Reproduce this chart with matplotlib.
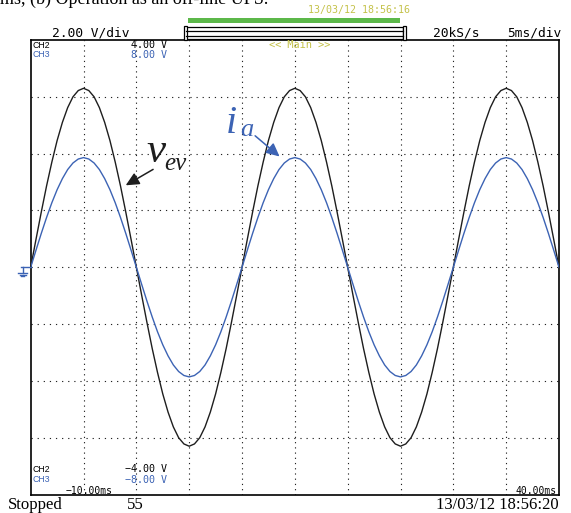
import numpy as np
import matplotlib
matplotlib.use("Agg")
import matplotlib.pyplot as plt
from matplotlib.lines import Line2D
from matplotlib.patches import Rectangle, FancyArrowPatch

# ---- data ----
t_start_ms, t_step_ms = -10.0, 0.5
v_ev = [0.00, 0.49, 0.97, 1.43, 1.85, 2.23, 2.55, 2.81, 3.00, 3.11, 3.15,
        3.11, 3.00, 2.81, 2.55, 2.23, 1.85, 1.43, 0.97, 0.49,
        0.00, -0.49, -0.97, -1.43, -1.85, -2.23, -2.55, -2.81, -3.00, -3.11, -3.15,
        -3.11, -3.00, -2.81, -2.55, -2.23, -1.85, -1.43, -0.97, -0.49,
        0.00, 0.49, 0.97, 1.43, 1.85, 2.23, 2.55, 2.81, 3.00, 3.11, 3.15,
        3.11, 3.00, 2.81, 2.55, 2.23, 1.85, 1.43, 0.97, 0.49,
        0.00, -0.49, -0.97, -1.43, -1.85, -2.23, -2.55, -2.81, -3.00, -3.11, -3.15,
        -3.11, -3.00, -2.81, -2.55, -2.23, -1.85, -1.43, -0.97, -0.49,
        0.00, 0.49, 0.97, 1.43, 1.85, 2.23, 2.55, 2.81, 3.00, 3.11, 3.15,
        3.11, 3.00, 2.81, 2.55, 2.23, 1.85, 1.43, 0.97, 0.49,
        0.00]
i_a = [0.00, 0.60, 1.19, 1.75, 2.27, 2.73, 3.12, 3.44, 3.67, 3.81, 3.86,
       3.81, 3.67, 3.44, 3.12, 2.73, 2.27, 1.75, 1.19, 0.60,
       0.00, -0.60, -1.19, -1.75, -2.27, -2.73, -3.12, -3.44, -3.67, -3.81, -3.86,
       -3.81, -3.67, -3.44, -3.12, -2.73, -2.27, -1.75, -1.19, -0.60,
       0.00, 0.60, 1.19, 1.75, 2.27, 2.73, 3.12, 3.44, 3.67, 3.81, 3.86,
       3.81, 3.67, 3.44, 3.12, 2.73, 2.27, 1.75, 1.19, 0.60,
       0.00, -0.60, -1.19, -1.75, -2.27, -2.73, -3.12, -3.44, -3.67, -3.81, -3.86,
       -3.81, -3.67, -3.44, -3.12, -2.73, -2.27, -1.75, -1.19, -0.60,
       0.00, 0.60, 1.19, 1.75, 2.27, 2.73, 3.12, 3.44, 3.67, 3.81, 3.86,
       3.81, 3.67, 3.44, 3.12, 2.73, 2.27, 1.75, 1.19, 0.60,
       0.00]
ch2_v_per_div = 1.0   # CH2: +-4.00 V over 4 div
ch3_v_per_div = 2.0   # CH3: +-8.00 V over 4 div
x_range_ms = (-10, 40)
ms_per_div = 5

W, H = 571, 513
BLUE = "#3c63b4"
BLACK = "#1e1e1e"
YEL = "#c4c24a"

fig = plt.figure(figsize=(W / 100, H / 100), dpi=100)
fig.patch.set_facecolor("white")

def fx(x):
    return x / W

def fy(y):
    return 1 - y / H

L, R, T, B = 30.7, 559.0, 40.0, 494.5
ax = fig.add_axes([fx(L), fy(B), fx(R) - fx(L), fy(T) - fy(B)])
ax.set_xlim(*x_range_ms)
ax.set_ylim(-4, 4)

t = t_start_ms + t_step_ms * np.arange(len(v_ev))
ax.plot(t, np.array(v_ev) / ch2_v_per_div, color=BLACK, lw=1.0, zorder=3)
ax.plot(t, np.array(i_a) / ch3_v_per_div, color=BLUE, lw=1.0, zorder=4)

# dotted grid
for xv in np.arange(x_range_ms[0] + ms_per_div, x_range_ms[1], ms_per_div):
    ax.axvline(xv, color="#222222", lw=0.8, dashes=(1.1, 3.6), zorder=1)
for yv in range(-3, 4):
    ax.axhline(yv, color="#222222", lw=0.8, dashes=(1.1, 4.4), zorder=1)
ax.set_xticks([])
ax.set_yticks([])
for s in ax.spines.values():
    s.set_linewidth(1.2)
    s.set_color("black")

mono = "DejaVu Sans Mono"
# caption fragment at very top (cut off in the source)
fig.text(0, fy(3.5), "ms, (b) Operation as an off-line UPS.", family="Liberation Serif",
         fontsize=13, va="baseline", ha="left", color="black")
fig.text(fx(359), fy(9.7), "13/03/12 18:56:16", family=mono, fontsize=7.2, color=YEL,
         ha="center", va="center")
fig.add_artist(Rectangle((fx(188), fy(22.5)), fx(400) - fx(188), 4.2 / H,
                         transform=fig.transFigure, color="#5cb84a", lw=0))
# zoom indicator bar
fig.add_artist(Rectangle((fx(186), fy(38.5)), fx(403) - fx(186), 11 / H,
                         transform=fig.transFigure, fill=False, ec="black", lw=0.9))
for yy in (30.5, 35.5):
    fig.add_artist(Line2D([fx(186), fx(403)], [fy(yy), fy(yy)], color="black", lw=0.9))
for xx in (184, 403):
    fig.add_artist(Rectangle((fx(xx), fy(39.5)), 3 / W, 13 / H,
                             transform=fig.transFigure, fill=True, fc="white", ec="black", lw=0.9))

fig.text(fx(52), fy(33.5), "2.00 V/div", family=mono, fontsize=9.3, ha="left", va="center")
fig.text(fx(433), fy(33.5), "20kS/s", family=mono, fontsize=9.3, ha="left", va="center")
fig.text(fx(507), fy(33.5), "5ms/div", family=mono, fontsize=9.3, ha="left", va="center")

fig.text(fx(32.5), fy(45), "CH2", family="Liberation Sans", fontsize=6.3, ha="left", va="center")
fig.text(fx(32.5), fy(55), "CH3", family="Liberation Sans", fontsize=6.3, ha="left", va="center", color=BLUE)
fig.text(fx(167), fy(45), "4.00 V", family=mono, fontsize=7.2, ha="right", va="center")
fig.text(fx(167), fy(55), "8.00 V", family=mono, fontsize=7.2, ha="right", va="center", color=BLUE)
fig.text(fx(300), fy(45), "<< Main >>", family=mono, fontsize=7.4, ha="center", va="center", color=YEL)

fig.text(fx(32.5), fy(469), "CH2", family="Liberation Sans", fontsize=6.3, ha="left", va="center")
fig.text(fx(32.5), fy(480), "CH3", family="Liberation Sans", fontsize=6.3, ha="left", va="center", color=BLUE)
fig.text(fx(167), fy(469), "\u22124.00 V", family=mono, fontsize=7.2, ha="right", va="center")
fig.text(fx(167), fy(480), "\u22128.00 V", family=mono, fontsize=7.2, ha="right", va="center", color=BLUE)
fig.text(fx(113), fy(490.5), "\u221210.00ms", family=mono, fontsize=7.0, ha="right", va="center")
fig.text(fx(557), fy(490.5), "40.00ms", family=mono, fontsize=7.0, ha="right", va="center")

fig.text(fx(8), fy(509), "Stopped", family="Liberation Serif", fontsize=12, ha="left", va="baseline")
fig.text(fx(127), fy(509), "55", family="Liberation Serif", fontsize=12, ha="left", va="baseline")
fig.text(fx(559), fy(509), "13/03/12 18:56:20", family="Liberation Serif", fontsize=12,
         ha="right", va="baseline")

# ground marker (CH3)
gm = [([21.5, 30.5], [267.3, 267.3]), ([23, 23], [267.3, 272.5]),
      ([18.5, 27.5], [272.7, 272.7]), ([20.0, 26.0], [274.5, 274.5]), ([21.5, 24.5], [276.3, 276.3])]
for xs, ys in gm:
    fig.add_artist(Line2D([fx(v) for v in xs], [fy(v) for v in ys], color=BLUE, lw=1.0))

# annotations
fig.text(fx(146), fy(162), "v", family="Liberation Serif", style="italic", fontsize=31,
         ha="left", va="baseline", color=BLACK)
fig.text(fx(164), fy(170), "ev", family="Liberation Serif", style="italic", fontsize=18,
         ha="left", va="baseline", color=BLACK)
fig.add_artist(FancyArrowPatch(
    (fx(155.5), fy(168)), (fx(123.3), fy(186.7)), transform=fig.transFigure,
    arrowstyle="-|>,head_length=5,head_width=2.4", color=BLACK, lw=1.1, mutation_scale=1.6))
fig.text(fx(226), fy(133), "i", family="Liberation Serif", style="italic", fontsize=29,
         ha="left", va="baseline", color=BLUE)
fig.text(fx(240), fy(135.5), "a", family="Liberation Serif", style="italic", fontsize=19,
         ha="left", va="baseline", color=BLUE)
fig.add_artist(FancyArrowPatch(
    (fx(253), fy(134)), (fx(281.7), fy(158.3)), transform=fig.transFigure,
    arrowstyle="-|>,head_length=5,head_width=2.4", color=BLUE, lw=1.1, mutation_scale=1.6))

fig.savefig("out.png", dpi=100)
